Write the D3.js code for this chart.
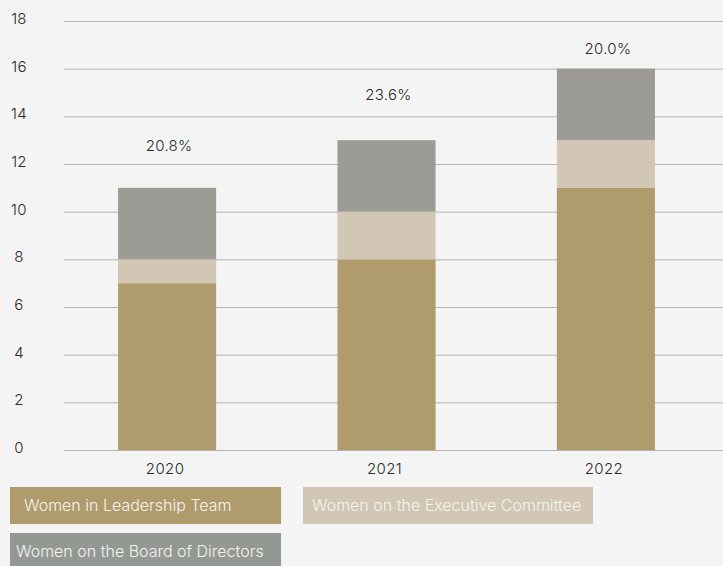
<!DOCTYPE html>
<html>
  <head>
    <meta charset="utf-8">
    <title>Women in leadership</title>
    <style media="screen">
    body{margin: 0; background: #f4f4f4}
    svg{display: block; font-family: Inter, "Noto Sans", sans-serif}
    </style>
  </head>
  <body>
    <script src="https://d3js.org/d3.v7.min.js"></script>
    <script type="text/javascript">
      var w = 723, h = 566;

      var years = ['2020', '2021', '2022']
      var leadership = [7, 8, 11]
      var executive = [1, 2, 2]
      var board = [3, 3, 3]
      var shares = ['20.8%', '23.6%', '20.0%']
      var shareAt = [12.55, 14.7, 16.6]   // where the share label sits on the value axis
      var yTicks = [0, 2, 4, 6, 8, 10, 12, 14, 16, 18]

      var seriesNames = ['Women in Leadership Team', 'Women on the Executive Committee', 'Women on the Board of Directors']
      var colors = ['#b09b6c', '#d1c7b4', '#9d9b96']
      var legendColors = ['#b09b6c', '#d1c7b4', '#949894']

      var rows = years.map(function(y, i){
        return {year: y, lead: leadership[i], exec: executive[i], board: board[i]}
      })
      var stack = d3.stack().keys(['lead', 'exec', 'board'])(rows)

      var x = d3.scaleBand().domain(years).range([57.5, 715.5]).paddingInner(0.553).paddingOuter(0.276)
      var y = d3.scaleLinear().domain([0, 18]).range([450, 21])

      var svg = d3.select('body').append('svg')
        .attr('width', w)
        .attr('height', h)

      svg.append('g').selectAll('line')
        .data(yTicks)
        .enter().append('line')
          .attr('x1', 64).attr('x2', w)
          .attr('y1', function(d){ return y(d) + 0.5 })
          .attr('y2', function(d){ return y(d) + 0.5 })
          .attr('stroke', '#b4b4b4')

      svg.append('g').selectAll('text')
        .data(yTicks)
        .enter().append('text')
          .attr('x', 19)
          .attr('y', function(d){ return y(d) + 3 })
          .attr('text-anchor', 'middle')
          .attr('font-size', 15)
          .attr('font-weight', 300)
          .attr('letter-spacing', 0.3)
          .attr('fill', '#2a2a2a')
          .text(function(d){ return d })

      svg.append('g').selectAll('rect')
        .data(stack)
        .enter().append('g')
          .attr('fill', function(d, i){ return colors[i] })
        .selectAll('rect')
        .data(function(d){ return d })
        .enter().append('rect')
          .attr('x', function(d){ return x(d.data.year) })
          .attr('width', x.bandwidth())
          .attr('y', function(d){ return y(d[1]) })
          .attr('height', function(d){ return y(d[0]) - y(d[1]) })

      svg.append('g').selectAll('text')
        .data(years)
        .enter().append('text')
          .attr('x', function(d){ return x(d) + x.bandwidth() / 2 - 2 })
          .attr('y', 474)
          .attr('text-anchor', 'middle')
          .attr('font-size', 15)
          .attr('font-weight', 300)
          .attr('letter-spacing', 0.4)
          .attr('fill', '#2a2a2a')
          .text(function(d){ return d })

      svg.append('g').selectAll('text')
        .data(shares)
        .enter().append('text')
          .attr('x', function(d, i){ return x(years[i]) + x.bandwidth() / 2 + 2 })
          .attr('y', function(d, i){ return y(shareAt[i]) })
          .attr('text-anchor', 'middle')
          .attr('font-size', 15)
          .attr('font-weight', 300)
          .attr('letter-spacing', 0.3)
          .attr('fill', '#2a2a2a')
          .text(function(d){ return d })

      var legendPos = [{x: 10, y: 487, w: 271, tx: 24}, {x: 303, y: 487, w: 290, tx: 312}, {x: 10, y: 533, w: 271, tx: 16}]
      var legend = svg.append('g').selectAll('g')
        .data(seriesNames)
        .enter().append('g')
      legend.append('rect')
        .attr('x', function(d, i){ return legendPos[i].x })
        .attr('y', function(d, i){ return legendPos[i].y })
        .attr('width', function(d, i){ return legendPos[i].w })
        .attr('height', 37)
        .attr('fill', function(d, i){ return legendColors[i] })
      legend.append('text')
        .attr('x', function(d, i){ return legendPos[i].tx })
        .attr('y', function(d, i){ return legendPos[i].y + 24 })
        .attr('font-size', 16)
        .attr('font-weight', 300)
        .attr('fill', '#f6f3ec')
        .text(function(d){ return d })
    </script>
  </body>
</html>
